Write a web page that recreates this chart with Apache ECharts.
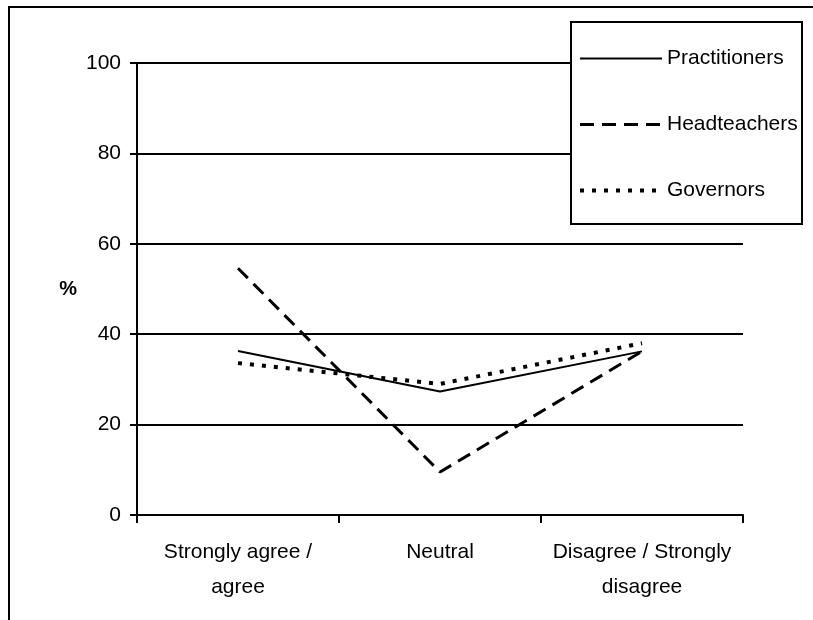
<!DOCTYPE html>
<html>
<head>
<meta charset="utf-8">
<script src="https://cdn.jsdelivr.net/npm/echarts@6/dist/echarts.min.js"></script>
<style>
html,body{margin:0;padding:0;background:#fff;}
#chart{width:813px;height:620px;}
</style>
</head>
<body>
<div id="chart"></div>
<script>
var categories = ['Strongly agree /\nagree', 'Neutral', 'Disagree / Strongly\ndisagree'];
var practitioners = [36.3, 27.3, 36.2];
var headteachers = [54.6, 9.5, 36.2];
var governors = [33.6, 29.0, 38.0];
var yTicks = { min: 0, max: 100, interval: 20 };

var FONT = '"Liberation Sans", Arial, sans-serif';
var chart = echarts.init(document.getElementById('chart'));
chart.setOption({
  animation: false,
  backgroundColor: '#fff',
  graphic: [
    { type: 'rect', shape: { x: 9, y: 7, width: 900, height: 700 }, style: { fill: null, stroke: '#000', lineWidth: 2 }, z: 0 },
    { type: 'rect', shape: { x: 571, y: 22, width: 231, height: 202 }, style: { fill: '#fff', stroke: '#000', lineWidth: 2 }, z: 10 }
  ],
  grid: { left: 137, top: 63, right: 70, bottom: 105, containLabel: false },
  legend: {
    orient: 'vertical',
    left: 578, top: 48,
    itemWidth: 82, itemHeight: 22, itemGap: 45, itemTextGap: 6,
    padding: 0,
    z: 20,
    itemStyle: { color: 'rgba(0,0,0,0)', borderColor: 'rgba(0,0,0,0)', borderWidth: 0 },
    textStyle: { fontFamily: FONT, fontSize: 21, color: '#000' },
    data: [
      { name: 'Practitioners', lineStyle: { width: 2, type: 'solid', color: '#000' } },
      { name: 'Headteachers', lineStyle: { width: 3, type: [14, 8], color: '#000' } },
      { name: 'Governors', lineStyle: { width: 4, type: [4, 8], color: '#000' } }
    ]
  },
  xAxis: {
    type: 'category',
    data: categories,
    boundaryGap: true,
    axisLine: { show: true, lineStyle: { color: '#000', width: 2 } },
    axisTick: { show: true, length: 8, lineStyle: { color: '#000', width: 2 } },
    axisLabel: { fontFamily: FONT, fontSize: 21, color: '#000', lineHeight: 35, margin: 20, interval: 0 },
    splitLine: { show: false }
  },
  yAxis: {
    type: 'value',
    min: yTicks.min, max: yTicks.max, interval: yTicks.interval,
    name: '%',
    nameLocation: 'middle',
    nameRotate: 0,
    nameGap: 60,
    nameTextStyle: { fontFamily: FONT, fontSize: 20, fontWeight: 'bold', color: '#000' },
    axisLine: { show: true, lineStyle: { color: '#000', width: 2 } },
    axisTick: { show: true, length: 7, lineStyle: { color: '#000', width: 2 } },
    axisLabel: { fontFamily: FONT, fontSize: 21, color: '#000', margin: 16 },
    splitLine: { show: true, lineStyle: { color: '#000', width: 2 } }
  },
  series: [
    { name: 'Practitioners', type: 'line', data: practitioners, symbol: 'none', z: 3,
      lineStyle: { color: '#000', width: 2, type: 'solid' }, itemStyle: { color: '#000' } },
    { name: 'Headteachers', type: 'line', data: headteachers, symbol: 'none', z: 3,
      lineStyle: { color: '#000', width: 3, type: [14, 8] }, itemStyle: { color: '#000' } },
    { name: 'Governors', type: 'line', data: governors, symbol: 'none', z: 3,
      lineStyle: { color: '#000', width: 4, type: [4, 8] }, itemStyle: { color: '#000' } }
  ]
});
</script>
</body>
</html>
